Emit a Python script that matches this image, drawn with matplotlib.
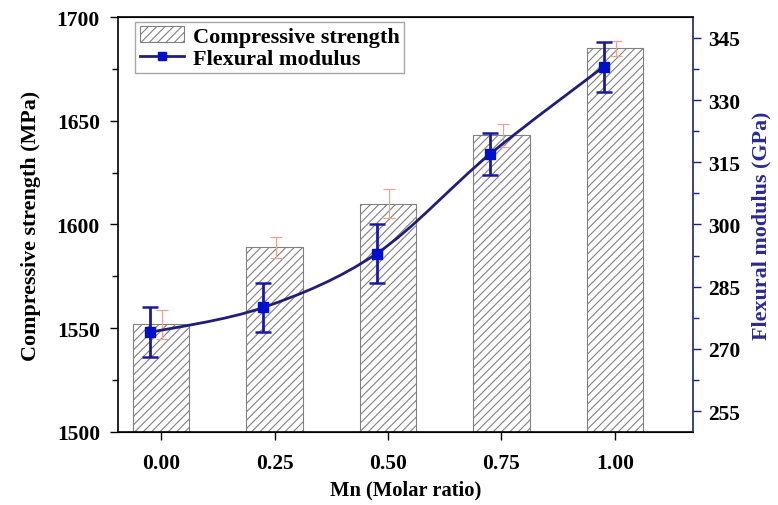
import numpy as np
import matplotlib
matplotlib.use('Agg')
import matplotlib.pyplot as plt
from matplotlib.path import Path
from matplotlib.patches import PathPatch
from matplotlib.lines import Line2D
from matplotlib.patches import Patch
from matplotlib.ticker import MultipleLocator

# Data
mn_ratio = [0.00, 0.25, 0.50, 0.75, 1.00]
tick_labels = ['0.00', '0.25', '0.50', '0.75', '1.00']
comp_strength = [1552, 1589, 1610, 1643, 1685]
comp_err = [7, 5, 7, 5.5, 3.6]
flex_modulus = [274, 280, 293, 317, 338]
flex_err = [6, 6, 7, 5, 6]

plt.rcParams['font.family'] = ['Liberation Serif', 'DejaVu Serif']
plt.rcParams['font.weight'] = 'bold'
plt.rcParams['hatch.color'] = '#7a7a7a'
plt.rcParams['hatch.linewidth'] = 0.8

NAVY = '#1f1f7a'
BLUE = '#0010c8'
SALMON = '#e8a494'
TICK_FS = 15.5

fig = plt.figure(figsize=(7.78, 5.06), dpi=100)
ax = fig.add_axes([0.1517, 0.1443, 0.7390, 0.8201])
ax2 = ax.twinx()

x = np.array(mn_ratio)
bar_w = 0.125
ax.bar(x, comp_strength, width=bar_w, color='white', edgecolor='#808080',
       linewidth=0.8, hatch='////', zorder=2)
ax.errorbar(x + 0.003, comp_strength, yerr=comp_err, fmt='none', ecolor=SALMON,
            elinewidth=0.9, capsize=4, capthick=0.9, zorder=3)

ax.set_xlim(-0.095, 1.172)
ax.set_ylim(1500, 1700)
ax.set_xticks(x)
ax.set_xticklabels(tick_labels)
ax.yaxis.set_major_locator(MultipleLocator(50))
ax.yaxis.set_minor_locator(MultipleLocator(25))
ax.tick_params(axis='both', which='major', direction='out', length=6, width=1,
               labelsize=TICK_FS, pad=7)
ax.tick_params(axis='y', which='minor', direction='out', length=4, width=1)
ax.tick_params(axis='x', pad=9)
for lbl in ax.get_xticklabels() + ax.get_yticklabels():
    lbl.set_fontweight('bold')
ax.set_xlabel('Mn (Molar ratio)', fontsize=14.8, fontweight='bold', labelpad=5)
ax.set_ylabel('Compressive strength (MPa)', fontsize=15.8, fontweight='bold', labelpad=11)

# Flexural modulus: smooth spline through the points (line offset as in the figure)
xl = x - 0.025
pts = np.column_stack([xl, flex_modulus]).astype(float)
ext = np.vstack([pts[0], pts, pts[-1]])
verts = [pts[0]]
codes = [Path.MOVETO]
for i in range(len(pts) - 1):
    p0, p1, p2, p3 = ext[i], ext[i + 1], ext[i + 2], ext[i + 3]
    c1 = p1 + (p2 - p0) / 6.0
    c2 = p2 - (p3 - p1) / 6.0
    verts += [c1, c2, p2]
    codes += [Path.CURVE4] * 3
ax2.add_patch(PathPatch(Path(verts, codes), facecolor='none', edgecolor=NAVY,
                        linewidth=2, zorder=3))
ax2.errorbar(xl, flex_modulus, yerr=flex_err, fmt='none', ecolor='#1a1aa0',
             elinewidth=2, capsize=6, capthick=1.8, zorder=4)
ax2.plot(xl, flex_modulus, linestyle='none', marker='s', markersize=7,
         color=BLUE, zorder=5)

ax2.set_ylim(250, 350)
ax2.set_yticks([255, 270, 285, 300, 315, 330, 345])
ax2.yaxis.set_minor_locator(MultipleLocator(7.5))
ax2.tick_params(axis='y', which='major', direction='out', length=6, width=1,
                labelsize=TICK_FS, colors=NAVY, labelcolor='black', pad=5)
ax2.tick_params(axis='y', which='minor', direction='out', length=4, width=1, colors=NAVY)
for lbl in ax2.get_yticklabels():
    lbl.set_fontweight('bold')
ax2.set_ylabel('Flexural modulus (GPa)', fontsize=15.8, fontweight='bold',
               color='#2a2a90', labelpad=8)

ax2.spines['right'].set_color(NAVY)
ax2.spines['right'].set_linewidth(1.2)
for s in ['left', 'bottom', 'top']:
    ax.spines[s].set_linewidth(1.2)
ax2.spines['left'].set_visible(False)
ax.spines['right'].set_visible(False)

handles = [
    Patch(facecolor='white', edgecolor='#808080', hatch='////', linewidth=0.8),
    Line2D([], [], color=NAVY, linewidth=2, marker='s', markersize=6,
           markerfacecolor=BLUE, markeredgecolor=BLUE),
]
leg = ax.legend(handles, ['Compressive strength', 'Flexural modulus'],
                loc='upper left', bbox_to_anchor=(0.022, 0.999), fontsize=16,
                frameon=True, fancybox=False, edgecolor='#909090',
                borderpad=0.2, handlelength=2.0, handletextpad=0.4,
                labelspacing=0.05, borderaxespad=0.2)
leg.get_frame().set_linewidth(1.0)
for t in leg.get_texts():
    t.set_fontweight('bold')
leg.set_zorder(10)

fig.savefig('out.png', dpi=100, facecolor='white')
